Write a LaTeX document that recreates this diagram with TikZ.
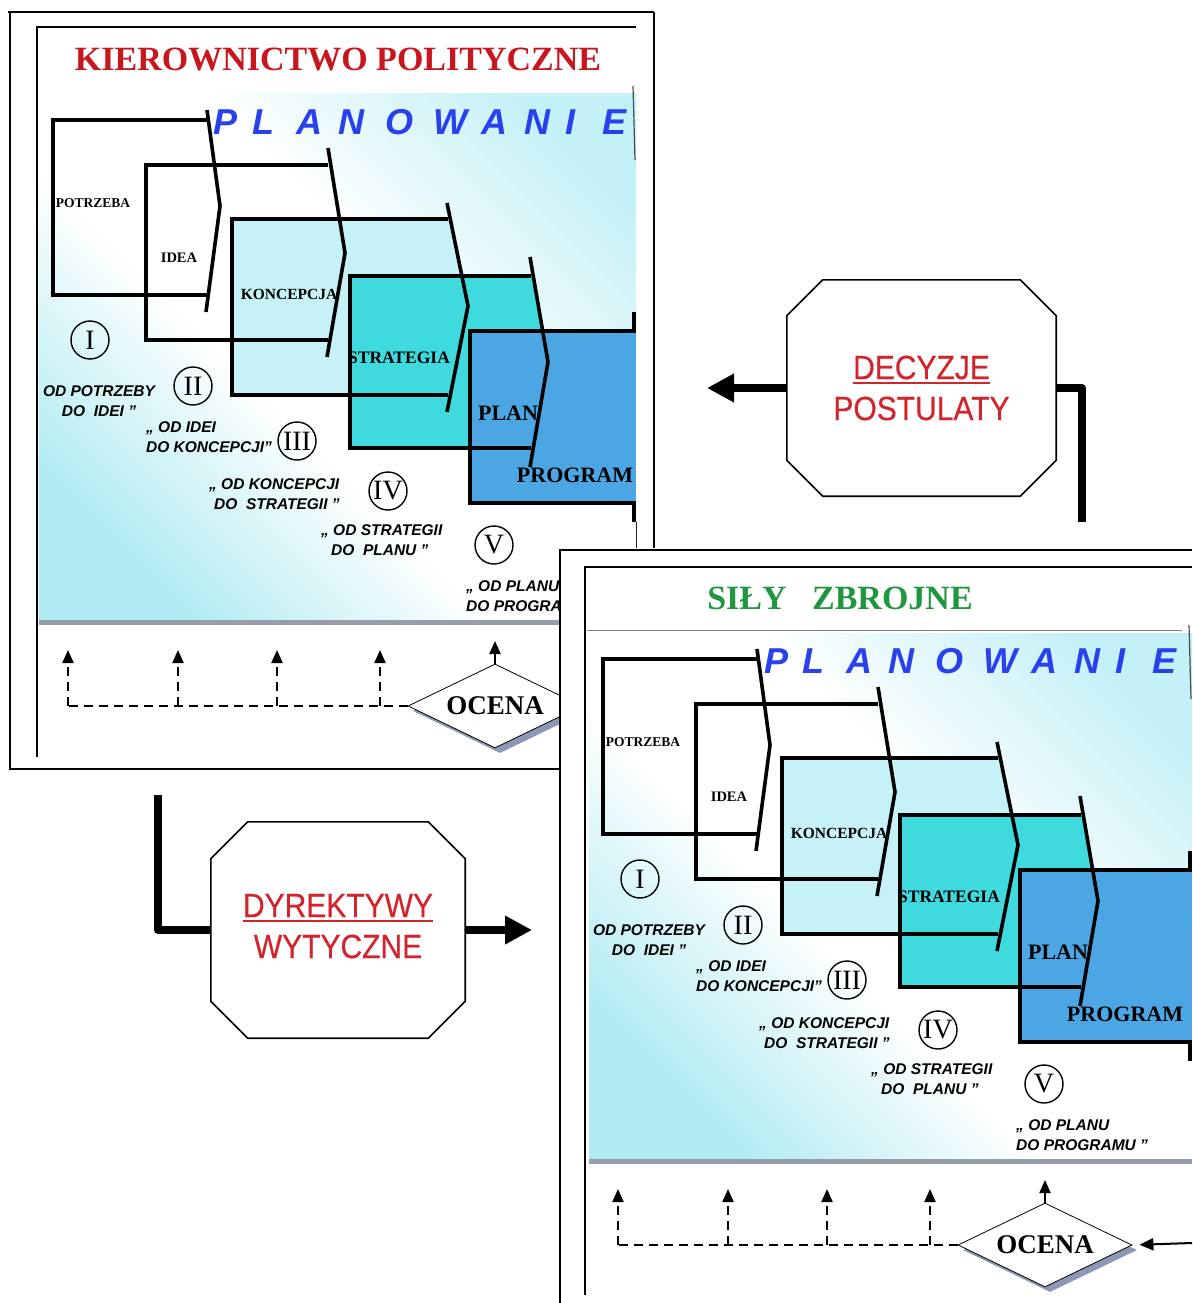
\documentclass[tikz,border=0pt]{standalone}
\usepackage{fontspec}
\setmainfont{Liberation Serif}
\newfontfamily\arialf{Liberation Sans}
\newfontfamily\arialr[FakeBold=0.4]{Liberation Sans}
\usetikzlibrary{arrows.meta,shapes.geometric}
\definecolor{titred}{RGB}{200,22,30}
\definecolor{zgreen}{RGB}{32,150,62}
\definecolor{plblue}{RGB}{40,64,238}
\definecolor{decred}{RGB}{210,36,44}
\definecolor{konc}{RGB}{198,242,247}
\definecolor{strc}{RGB}{62,218,222}
\definecolor{planc}{RGB}{76,166,228}
\definecolor{gradtop}{RGB}{196,240,247}
\definecolor{gradbot}{RGB}{176,235,243}
\definecolor{shadc}{RGB}{140,152,182}
\definecolor{bandc}{RGB}{150,158,172}
\pgfdeclarehorizontalshading{diagsh}{100bp}{color(0bp)=(gradbot); color(24bp)=(gradbot); color(43bp)=(white); color(58bp)=(white); color(78bp)=(gradtop); color(100bp)=(gradtop)}
\newcommand\fsz[1]{\fontsize{#1}{#1}\selectfont}
\newcommand\redul[1]{\setbox0=\hbox{#1}\leavevmode\rlap{\rule[-5pt]{\wd0}{2.2pt}}\box0}
\newcommand\tallx[1]{\scalebox{1}[1.12]{#1}}
\tikzset{
  framel/.style={line width=2pt},
  innerl/.style={line width=2.6pt},
  boxl/.style={line width=3.6pt, line cap=butt, line join=miter},
  bxt/.style={inner sep=0, font=\bfseries\fsz{#1}},
  plw/.style={inner sep=0, text=plblue, font=\arialf\bfseries\itshape\fsz{36}},
  numc/.style={circle, draw, line width=1.4pt, minimum size=38pt, inner sep=0, font=\fsz{28}},
  lbl/.style={inner sep=0, anchor=west, align=left, font=\arialf\bfseries\itshape\fontsize{15.5}{19.5}\selectfont},
  fbk/.style={line width=2pt, dash pattern=on 9pt off 6pt},
  fbtip/.style={-{Triangle[length=13pt,width=11pt]}},
  thickc/.style={line width=8pt, line join=round},
  bigtip/.style={-{Triangle[length=27pt,width=27pt]}},
  octl/.style={line width=1.6pt, line join=round},
  bigtxt/.style={inner sep=0, align=center, text=decred, font=\arialr\fontsize{30}{41}\selectfont},
  ocn/.style={diamond, aspect=2.07, minimum width=174pt, minimum height=84pt, inner sep=0},
}
\newcommand\octagon[2]{\draw[octl] ([xshift=#2]#1.north west) -- ([xshift=-#2]#1.north east) -- ([yshift=-#2]#1.north east) -- ([yshift=#2]#1.south east) -- ([xshift=-#2]#1.south east) -- ([xshift=#2]#1.south west) -- ([yshift=#2]#1.south west) -- ([yshift=-#2]#1.north west) -- cycle;}
\newcommand\panelbody[2]{%
  \shade[shading=diagsh, shading angle=45] (39,94) rectangle (#2,620);
  \fill[bandc] (39,620) rectangle (#2,625);
  \draw[gray!60!black, line width=1.2pt] (#2-3,86) -- (#2-1,160);
  \fill[konc] (232,219) -- (450,219) -- (468,306) -- (450,395) -- (232,395) -- cycle;
  \fill[strc] (350,276) -- (533,276) -- (548,362) -- (533,448) -- (350,448) -- cycle;
  \fill[planc] (470,331) rectangle (#2,503);
  \draw[boxl] (207,120) -- (53,120) -- (53,295) -- (207,295);
  \draw[boxl] (207,110) -- (220,206) -- (206,312);
  \draw[boxl] (328,165) -- (146,165) -- (146,340) -- (328,340);
  \draw[boxl] (328,148) -- (345,253) -- (327,357);
  \draw[boxl] (448,219) -- (232,219) -- (232,395) -- (448,395);
  \draw[boxl] (447,203) -- (468,306) -- (447,412);
  \draw[boxl] (531,276) -- (350,276) -- (350,448) -- (531,448);
  \draw[boxl] (530,257) -- (548,362) -- (530,467);
  \draw[boxl] (#2,331) -- (470,331) -- (470,503) -- (#2,503);
  \draw[boxl] (#2-2,312) -- (#2-2,331);
  \draw[boxl] (#2-2,503) -- (#2-2,522);
  \node[bxt=13.5] (#1n1) at (93,203) {POTRZEBA};
  \node[bxt=14.5] (#1n2) at (179,258) {IDEA};
  \node[bxt=15.5] (#1n3) at (289,294) {KONCEPCJA};
  \node[bxt=17.5] (#1n4) at (399,358) {STRATEGIA};
  \node[bxt=22] (#1n5) at (508,413) {PLAN};
  \node[bxt=22] (#1n6) at (575,475) {PROGRAM};
  \foreach \lt/\xx [count=\i] in {P/226,L/263,A/309,N/351,O/399,W/450,A/494,N/537,I/570,E/614} {\node[plw] (#1pl\i) at (\xx,122) {\lt};}
  \node[numc] (#1c1) at (90,340) {I};
  \node[numc] (#1c2) at (193,386) {II};
  \node[numc] (#1c3) at (297,441) {III};
  \node[numc] (#1c4) at (388,491) {IV};
  \node[numc] (#1c5) at (494,545) {V};
  \node[lbl, align=center, anchor=center] (#1l1) at (99,401) {OD POTRZEBY\\DO\ \ IDEI ”};
  \node[lbl] (#1l2) at (146,437) {„ OD IDEI\\DO KONCEPCJI”};
  \node[lbl] (#1l3) at (209,494) {„ OD KONCEPCJI\\\hspace*{5pt}DO\ \ STRATEGII ”};
  \node[lbl] (#1l4) at (321,540) {„ OD STRATEGII\\\hspace*{10pt}DO\ \ PLANU ”};
  \node[lbl] (#1l5) at (466,596) {„ OD PLANU\\DO PROGRAMU ”};
  \node[ocn, fill=shadc] (#1ocs) at (500,711) {};
  \node[ocn, draw, line width=0.8pt, fill=white, font=\bfseries\fsz{27}] (#1oc) at (495,706) {OCENA};
  \foreach \i/\xx in {1/68,2/178,3/277,4/380} {
    \coordinate (#1d\i) at (\xx,706);
    \coordinate (#1u\i) at (\xx,650);
    \draw[fbk, fbtip] (#1d\i) -- (#1u\i);
  }
  \draw[fbk] (#1oc.west) -- (#1d1);
  \coordinate (#1u5) at (495,641);
  \draw[line width=2pt, fbtip] (#1oc.north) -- (#1u5);
}
\begin{document}
\begin{tikzpicture}[x=1pt,y=-1pt]
\useasboundingbox (0,0) rectangle (1192,1303);
\fill[white] (0,0) rectangle (1192,1303);
% ---------- panel 1 ----------
\draw[framel] (8,12) -- (654,12);
\draw[framel] (10,12) -- (10,769) -- (560,769);
\draw[framel] (654,12) -- (654,550);
\draw[innerl] (36,27) -- (636,27);
\draw[innerl] (37,27) -- (37,757);
\draw[line width=1pt] (40,94) -- (53,94);
\draw[line width=0.8pt] (636,522) -- (636,550);
\node[inner sep=0, text=titred, font=\bfseries\fsz{34}] (t1) at (338,60) {KIEROWNICTWO POLITYCZNE};
\panelbody{pa}{636}
% ---------- panel 2 ----------
\fill[white] (560,548) rectangle (1192,1303);
\draw[framel] (560,550) -- (1192,550);
\draw[framel] (560,549) -- (560,1303);
\draw[innerl] (584,567) -- (1192,567);
\draw[innerl] (585,567) -- (585,1295);
\draw[gray, line width=1pt] (587,630) -- (1182,630);
\node[inner sep=0, text=zgreen, font=\bfseries\fsz{34}] (t2) at (840,598) {SIŁY\ \ \ ZBROJNE};
\begin{scope}[shift={(550,539)}]
\panelbody{pb}{642}
\end{scope}
\coordinate (pbin) at (1192,1243);
\draw[line width=2pt, -{Triangle[length=14pt,width=12pt]}, shorten >=7pt] (pbin) -- (pboc.east);
% ---------- DECYZJE ----------
\node[bigtxt, minimum width=269pt, minimum height=216pt] (dec) at (921.5,388) {\redul{\tallx{DECYZJE}}\\\tallx{POSTULATY}};
\octagon{dec}{36pt}
\coordinate (decL) at (707,388);
\coordinate (decD) at (1082,522);
\draw[thickc, bigtip] (dec.west) -- (decL);
\draw[thickc] (dec.east) -| (decD);
% ---------- DYREKTYWY ----------
\node[bigtxt, minimum width=254pt, minimum height=216pt] (dyr) at (338,930) {\redul{\tallx{DYREKTYWY}}\\\tallx{WYTYCZNE}\\[-33pt]};
\octagon{dyr}{37pt}
\coordinate (dyrU) at (158,795);
\coordinate (dyrR) at (532,930);
\draw[thickc] (dyrU) |- (dyr.west);
\draw[thickc, bigtip] (dyr.east) -- (dyrR);
\end{tikzpicture}
\end{document}
